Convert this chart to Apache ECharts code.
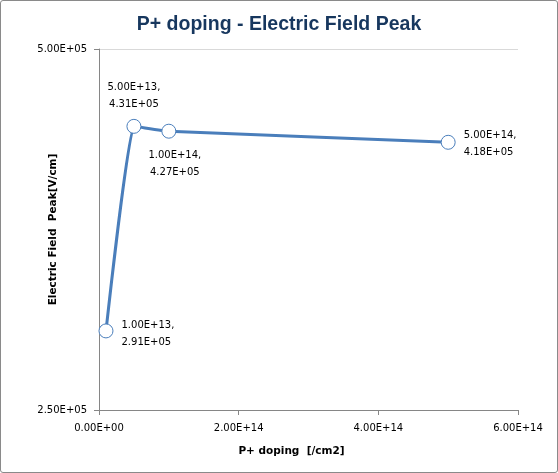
<!DOCTYPE html>
<html><head><meta charset="utf-8">
<script src="https://cdn.jsdelivr.net/npm/echarts@6/dist/echarts.min.js"></script>
<style>
html,body{margin:0;padding:0;background:#fff;}
#c{width:558px;height:473px;box-sizing:border-box;border:1px solid #8a8a8a;border-radius:3px;}
</style></head><body>
<div id="c"></div>
<script>
var titleText = 'P+ doping - Electric Field Peak';
var xName = 'P+ doping  [/cm2]';
var yName = 'Electric Field  Peak[V/cm]';
var dopingValues = [1e13, 5e13, 1e14, 5e14];
var fieldPeakValues = [291000, 431000, 427000, 418000];
var xTicks = [0, 2e14, 4e14, 6e14];
var yTicks = [250000, 500000];

function sci(v){
  if (v === 0) return '0.00E+00';
  var s = Number(v).toExponential(2).toUpperCase();
  var m = s.split('E');
  var e = parseInt(m[1], 10);
  var sign = e < 0 ? '-' : '+';
  var ae = Math.abs(e);
  return m[0] + 'E' + sign + (ae < 10 ? '0' + ae : '' + ae);
}

var labelPos = [
  {position:'right', distance:8, align:'left', offset:[0,3]},
  {position:'top', distance:7, align:'center', offset:[0,1]},
  {position:'bottom', distance:8, align:'center', offset:[6,0]},
  {position:'right', distance:8, align:'left', offset:[0,2]}
];

var data = dopingValues.map(function(x, i){
  return {value:[x, fieldPeakValues[i]], label: labelPos[i]};
});

var font = 'DejaVu Sans';
var chart = echarts.init(document.getElementById('c'), null, {renderer:'canvas'});
chart.setOption({
  animation:false,
  title:{text:titleText, left:'center', top:9,
    textStyle:{fontFamily:'Liberation Sans', fontWeight:'bold', fontSize:19.5, color:'#17375E'}},
  grid:{left:98, right:39, top:48, bottom:62, containLabel:false},
  xAxis:{type:'value', min:xTicks[0], max:xTicks[xTicks.length-1], interval:2e14,
    name:xName, nameLocation:'middle', nameGap:36, nameMoveOverlap:false,
    nameTextStyle:{fontFamily:font, fontWeight:'bold', fontSize:10.5, color:'#000', padding:[0,34,0,0]},
    axisLine:{show:true, lineStyle:{color:'#868686', width:1}},
    axisTick:{show:true, length:5, lineStyle:{color:'#868686'}},
    splitLine:{show:false},
    axisLabel:{fontFamily:font, fontSize:10, color:'#000', margin:13, formatter:function(v){return sci(v);}}
  },
  yAxis:{type:'log', logBase:10, min:yTicks[0], max:yTicks[yTicks.length-1],
    name:yName, nameLocation:'middle', nameGap:40, nameRotate:90, nameMoveOverlap:false,
    nameTextStyle:{fontFamily:font, fontWeight:'bold', fontSize:10.5, color:'#000'},
    axisLine:{show:true, lineStyle:{color:'#868686', width:1}},
    axisTick:{show:true, length:5, lineStyle:{color:'#868686'}},
    splitLine:{show:true, lineStyle:{color:'#D9D9D9', width:1}},
    axisLabel:{fontFamily:font, fontSize:10, color:'#000', margin:12, formatter:function(v){return sci(v);}}
  },
  series:[{
    type:'line', smooth:0.1, data:data,
    symbol:'circle', symbolSize:14, showAllSymbol:true,
    lineStyle:{color:'#4A7EBB', width:3},
    itemStyle:{color:'#fff', borderColor:'#4A7EBB', borderWidth:1},
    label:{show:true, fontFamily:font, fontSize:10, color:'#000', lineHeight:17,
      formatter:function(p){return sci(p.value[0]) + ',\n' + sci(p.value[1]);}}
  }]
});
</script>
</body></html>
